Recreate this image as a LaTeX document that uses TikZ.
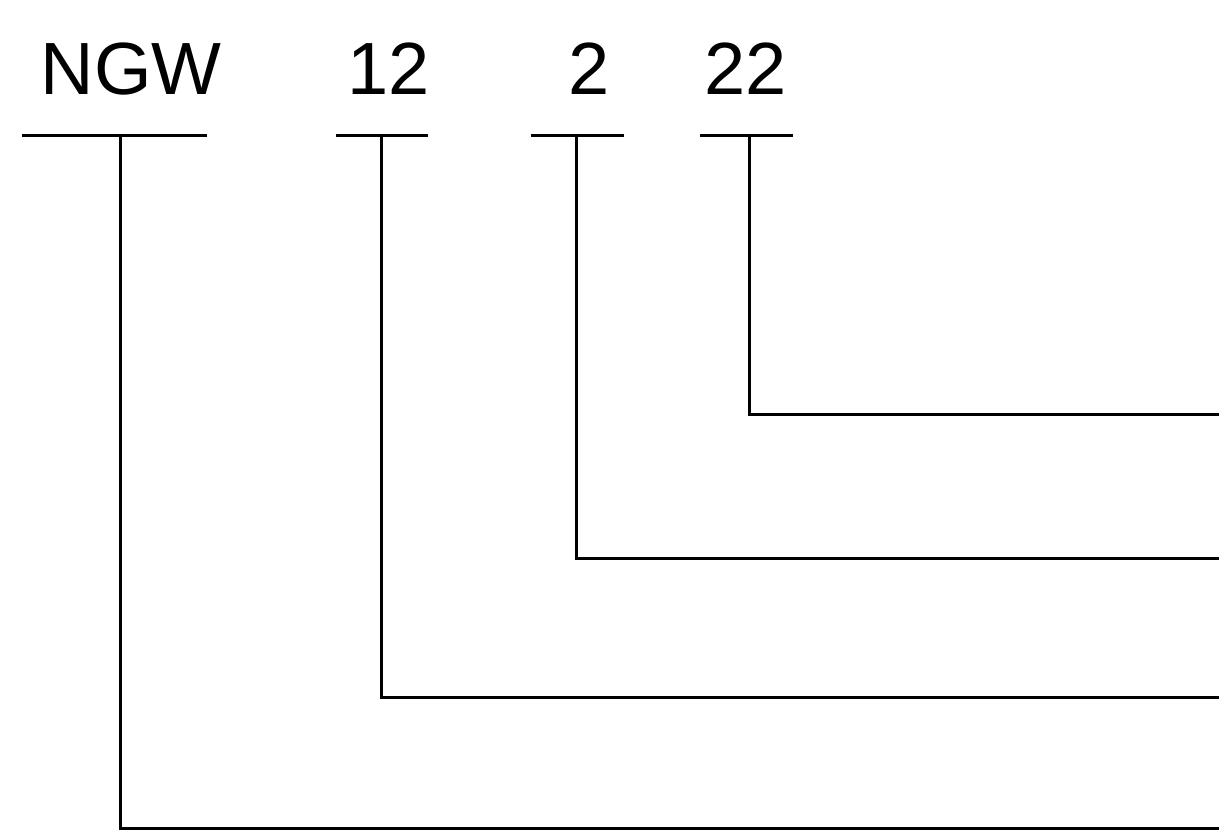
\documentclass[tikz,border=0pt]{standalone}
\usepackage{fontspec}
\setmainfont{Liberation Sans}
\usetikzlibrary{positioning}

\begin{document}
\begin{tikzpicture}[
        x = 1pt, y = -1pt, line width = 3pt,
        label text/.style = {font = \fontsize{74}{80}\selectfont, anchor = base, inner sep = 0pt},
        tree line/.style = {draw = black, line cap = butt}
    ]
      \useasboundingbox (0,0) rectangle (1219,830);

      % labels
      \node[label text] (ngw) at (131,94) {NGW};
      \node[label text] (n12) at (389,94) {12};
      \node[label text] (n2)  at (589,94) {2};
      \node[label text] (n22) at (746,94) {22};

      % underlines and their stems
      \coordinate (ngw-l) at (22,135);   \coordinate (ngw-r) at (207,135);
      \coordinate (n12-l) at (336,135);  \coordinate (n12-r) at (428,135);
      \coordinate (n2-l)  at (531,135);  \coordinate (n2-r)  at (624,135);
      \coordinate (n22-l) at (700,135);  \coordinate (n22-r) at (793,135);

      \coordinate (ngw-s) at (120,135);  \coordinate (ngw-e) at (1219,828);
      \coordinate (n12-s) at (381,135);  \coordinate (n12-e) at (1219,697);
      \coordinate (n2-s)  at (576,135);  \coordinate (n2-e)  at (1219,558);
      \coordinate (n22-s) at (749,135);  \coordinate (n22-e) at (1219,414);

      \path[tree line] (ngw-l) -- (ngw-r) (n12-l) -- (n12-r)
                       (n2-l) -- (n2-r) (n22-l) -- (n22-r);

      \path[tree line] (ngw-s) |- (ngw-e);
      \path[tree line] (n12-s) |- (n12-e);
      \path[tree line] (n2-s)  |- (n2-e);
      \path[tree line] (n22-s) |- (n22-e);
    \end{tikzpicture}
\end{document}
